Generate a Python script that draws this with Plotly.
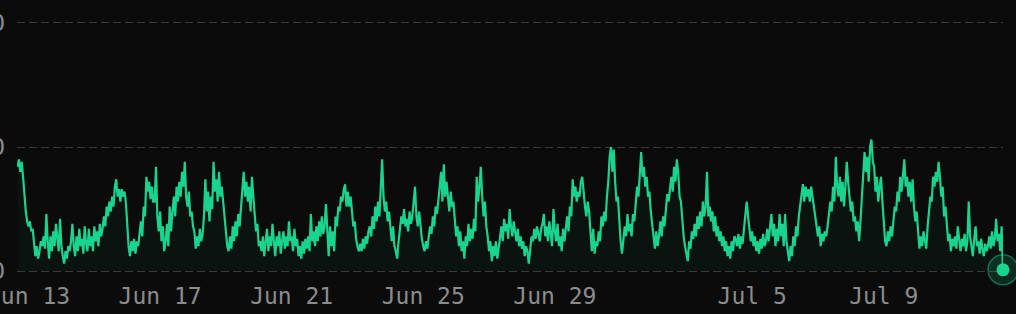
import pandas as pd
import plotly.graph_objects as go

# ---------------- data ----------------
START = "2024-06-12 16:00"          # first hourly sample
values = [
    # Jun 12 16:00 ->
    42, 45, 40, 44, 38, 29, 24, 20,
    18, 20, 16, 17, 12, 6, 10, 5, 8, 12, 10, 14, 9, 23, 12, 5, 14, 8, 16, 10, 19, 12, 8, 21,
    10, 6, 3, 8, 5, 10, 8, 12, 19, 10, 6, 14, 8, 17, 10, 13, 7, 18, 11, 8, 17, 10, 14, 8,
    18, 12, 16, 10, 19, 14, 17, 22, 18, 26, 22, 28, 24, 30, 26, 34, 37, 30, 33, 28, 33, 30,
    32, 28, 18, 10, 6, 12, 8, 13, 7, 12, 10, 15, 20, 14, 26, 22, 38, 32, 36, 29, 34, 28,
    # i 100 ->
    28, 42, 22, 16, 24, 12, 18, 8, 12, 19, 10, 26, 16, 24, 30, 22, 34, 28, 36, 30, 40, 34, 44,
    30, 26, 32, 22, 24, 18, 16, 9, 14, 10, 17, 12, 15, 22, 37, 24, 32, 20, 30, 25, 44,
    32, 37, 28, 40, 30, 34, 26, 22, 16, 10, 8, 14, 9, 18, 12, 20, 14, 23, 18, 26, 34, 40, 30,
    36, 28, 34, 24, 38, 30, 22, 16, 19, 10, 12, 8, 14, 6, 12, 17, 8, 14, 10, 19,
    12, 6, 14, 10, 16, 7, 12, 16, 9, 14, 10, 20, 12, 14, 8, 17, 10, 13, 6,
    # i 206 ->
    10, 5, 12, 7, 13, 9, 14, 8, 23, 12, 16, 10, 18, 12, 20, 14, 22, 15, 18, 27,
    14, 6, 18, 10, 16, 8, 22, 18, 26, 24, 30, 28, 33, 35, 26, 32, 26, 30,
    24, 18, 20, 13, 10, 8, 11, 8, 13, 9, 14, 11, 16, 18, 14, 22, 17, 26, 20, 28, 22, 36, 45,
    30, 24, 28, 20, 24, 16, 12, 18, 10, 8, 5, 12, 18, 22, 19, 25, 18, 21, 16, 24, 19, 22, 28,
    34, 22, 18, 24, 17, 13, 10, 8, 12, 9, 14, 18, 15, 22, 18, 26, 23, 30, 34, 40, 28, 43,
    # i 312 ->
    30, 36, 28, 24, 32, 26, 28, 22, 14, 18, 10, 16, 8, 12, 5, 14, 10, 19, 12, 17, 13, 21, 16,
    38, 28, 34, 42, 30, 22, 28, 18, 14, 8, 12, 4, 10, 6, 12, 5, 9,
    14, 18, 12, 21, 16, 19, 13, 25, 18, 14, 20, 15, 12, 17, 10, 14, 9, 12, 6, 10, 8, 3, 8,
    14, 12, 17, 13, 18, 15, 12, 17, 19, 23, 14, 18, 12, 20, 15, 10, 25, 16, 12, 19, 10, 14, 8, 17,
    12, 18, 22, 16, 26, 22, 37, 30, 34, 28, 32, 30, 36, 38, 30, 26, 22, 28, 24,
    # i 418 ->
    14, 8, 17, 7, 12, 10, 16, 12, 22, 18, 24, 20, 30, 36, 46, 50, 40, 49, 36, 28, 30, 18, 12, 7,
    12, 18, 14, 23, 16, 19, 14, 23, 20, 28, 34, 30, 40, 48, 38, 42, 34, 38, 30, 32, 24,
    18, 12, 9, 16, 10, 14, 20, 14, 22, 18, 26, 31, 28, 34, 38, 32, 42, 36, 45,
    40, 30, 28, 20, 14, 10, 6, 4, 12, 9, 16, 13, 19, 14, 22, 17, 24, 18, 28, 22, 26, 40,
    22, 26, 20, 24, 16, 22, 14, 18, 12, 16, 10, 14, 8, 12, 6, 10, 5, 12, 8, 14,
    # i 524 ->
    13, 10, 15, 9, 14, 11, 17, 22, 28, 22, 18, 12, 16, 10, 14, 8, 12, 7, 13, 9, 15, 10, 12, 17,
    12, 18, 23, 14, 19, 10, 17, 12, 23, 14, 19, 10, 23, 12, 8, 4, 10, 6, 14, 10, 18, 14, 22, 26,
    30, 35, 28, 34, 30, 33, 28, 34, 30, 26, 24, 20, 14, 18, 10, 15, 12, 16,
    14, 18, 22, 28, 24, 34, 28, 46, 34, 30, 38, 28, 36, 26, 34, 44,
    36, 30, 24, 28, 20, 22, 16, 20, 12, 20, 30, 40, 48, 40, 46, 36, 50, 53, 44, 42, 32, 38, 28, 34,
    # i 630 ->
    38, 28, 18, 12, 10, 16, 12, 18, 14, 22, 26, 24, 32, 28, 38, 32, 40, 45,
    34, 38, 30, 36, 28, 37, 26, 20, 24, 16, 9, 14, 10, 16, 12, 9, 18, 24, 30, 28, 38,
    34, 40, 36, 44, 38, 30, 34, 22, 26, 18, 12, 15, 8, 13, 10, 14, 9, 18, 12, 8, 13,
    10, 15, 8, 12, 28, 14, 10, 6, 13, 18, 10, 12, 7, 13, 9, 6, 11, 8, 10,
    14, 9, 16, 10, 13, 21, 12, 15, 8, 18, 0.5,
]

y_ticks = [0, 50, 100]
y_tick_labels = ["0", "50", "100"]
x_tick_dates = ["2024-06-13", "2024-06-17", "2024-06-21", "2024-06-25",
                "2024-06-29", "2024-07-05", "2024-07-09"]
x_tick_labels = ["Jun 13", "Jun 17", "Jun 21", "Jun 25", "Jun 29", "Jul 5", "Jul 9"]

# ---------------- style ----------------
BG = "#0b0b0b"
GREEN = "#19d48f"
TEXT = "#8c8c8c"
GRID = "#3a3a3a"
FONT = "DejaVu Sans Mono, Liberation Mono, monospace"

times = pd.date_range(start=START, periods=len(values), freq="h")

fig = go.Figure()
fig.add_trace(go.Scatter(
    x=times, y=values, mode="lines",
    line=dict(color=GREEN, width=2.2),
    fill="tozeroy", fillcolor="rgba(25,212,143,0.045)",
    hoverinfo="skip", showlegend=False,
))
# last-point glow marker
fig.add_trace(go.Scatter(
    x=[times[-1]], y=[values[-1]], mode="markers",
    marker=dict(size=30, color="rgba(25,212,143,0.16)",
                line=dict(color="rgba(25,212,143,0.45)", width=1.5)),
    cliponaxis=False, hoverinfo="skip", showlegend=False,
))
fig.add_trace(go.Scatter(
    x=[times[-1]], y=[values[-1]], mode="markers",
    marker=dict(size=13, color=GREEN, line=dict(width=0)),
    cliponaxis=False, hoverinfo="skip", showlegend=False,
))

fig.update_layout(
    width=1016, height=314,
    margin=dict(l=17, r=13, t=20, b=40),
    paper_bgcolor=BG, plot_bgcolor=BG,
    font=dict(family=FONT, color=TEXT, size=23),
    hovermode=False,
    xaxis=dict(
        type="date",
        range=[times[0] - pd.Timedelta(minutes=25), times[-1]],
        tickvals=x_tick_dates, ticktext=x_tick_labels,
        showgrid=False, zeroline=False, showline=False, ticks="",
        tickfont=dict(family=FONT, size=23, color=TEXT),
        ticklabeloverflow="allow",
        ticklabelstandoff=6,
        automargin=False,
    ),
    yaxis=dict(
        range=[-1.2, 101.2],
        tickvals=y_ticks, ticktext=y_tick_labels,
        showgrid=True, gridcolor=GRID, gridwidth=1, griddash="8px,4px",
        zeroline=False, showline=False, ticks="",
        tickfont=dict(family=FONT, size=23, color=TEXT),
        ticklabelstandoff=11,
        ticklabeloverflow="allow",
        automargin=False,
    ),
)

fig.write_html("out.html")
